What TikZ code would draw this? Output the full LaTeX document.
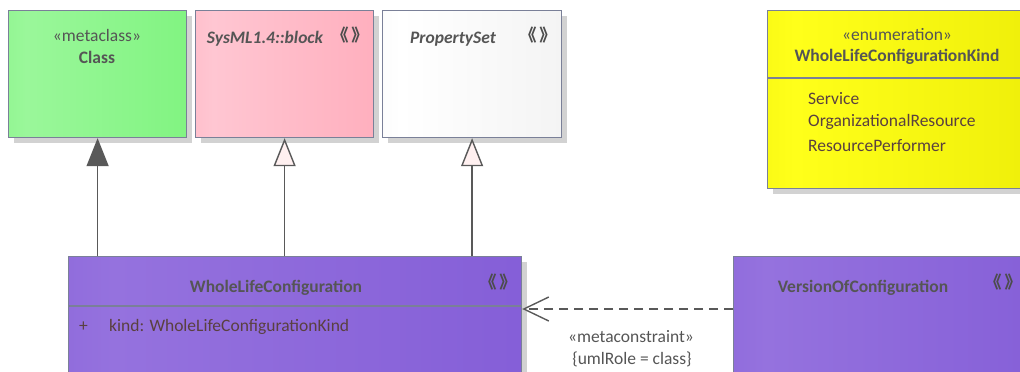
\documentclass[tikz,border=0pt]{standalone}
\usepackage{fontspec}
\setmainfont{Carlito}
\newfontfamily\cjk{Noto Sans CJK SC}
\usetikzlibrary{arrows.meta,shadows}

\definecolor{edgegray}{HTML}{7A8098}
\definecolor{linegray}{HTML}{595959}
\definecolor{textgray}{HTML}{555555}
\definecolor{itembrown}{HTML}{5A4040}
\definecolor{shadowgray}{HTML}{D2D2D2}
\definecolor{fadeedge}{HTML}{EEEEEE}
\definecolor{fadelight}{HTML}{FFFFFF}

\pgfdeclarehorizontalshading[fadeedge,fadelight]{umlfade}{100bp}{color(0bp)=(fadeedge); color(30bp)=(fadelight); color(100bp)=(fadeedge)}

\tikzset{
  box/.style={draw=edgegray, line width=1.2pt, anchor=north west, inner sep=0pt,
    drop shadow={shadow xshift=5pt, shadow yshift=-5pt, fill=shadowgray, opacity=1}},
  fade/.style 2 args={/utils/exec={\definecolor{fadeedge}{HTML}{#1}\definecolor{fadelight}{HTML}{#2}},
    shade, shading=umlfade},
  lbl/.style={inner sep=0pt, text=textgray, font=\fontsize{17.5}{20}\selectfont},
  boxtitle/.style={lbl, font=\fontsize{17.5}{20}\selectfont\bfseries},
  boxitem/.style={lbl, anchor=west, text=itembrown},
  stereo/.style={inner sep=0pt, text=textgray!90!black, font=\fontsize{17}{17}\cjk\bfseries},
  sepline/.style={draw=edgegray, line width=1.2pt},
  gen/.style={draw=linegray, line width=1.4pt,
    -{Triangle[length=28pt, width=22pt, fill=#1]}},
  dep/.style={draw=linegray, line width=1.4pt, dash pattern=on 9pt off 6pt,
    -{Straight Barb[length=25pt, width=24pt]}}
}
\newcommand{\stmark}{《\hspace{3pt}》}

\begin{document}
\begin{tikzpicture}[x=1pt, y=-1pt]
  \useasboundingbox (0,0) rectangle (1020,372);
  \clip (0,0) rectangle (1020,372);

  % upper row
  \node[box, fade={74F274}{9AF79A}, minimum width=178pt, minimum height=127pt] (cls) at (8,10) {};
  \node[box, fade={FFA3B3}{FFC6D2}, minimum width=178pt, minimum height=127pt] (blk) at (195,10) {};
  \node[box, fade={EEEEEE}{FFFFFF}, minimum width=179pt, minimum height=127pt] (pset) at (382,10) {};
  \node[box, fade={E6E600}{FFFF1A}, minimum width=270pt, minimum height=178pt] (enum) at (767,10) {};

  % lower row
  \node[box, fade={7C54D4}{9572DE}, minimum width=453pt, minimum height=150pt] (wlc) at (68,256) {};
  \node[box, fade={7C54D4}{9572DE}, minimum width=320pt, minimum height=150pt] (voc) at (733,256) {};

  % texts
  \node[lbl] (clsst) at (97,35) {«metaclass»};
  \node[boxtitle] (clsname) at (97,57) {Class};
  \node[boxtitle, font=\fontsize{17.5}{20}\selectfont\bfseries\itshape] (blkname) at (265,39) {SysML1.4::block};
  \node[stereo] (blkst) at (350,35) {\stmark};
  \node[boxtitle, font=\fontsize{17.5}{20}\selectfont\bfseries\itshape] (psetname) at (453,39) {PropertySet};
  \node[stereo] (psetst) at (538,35) {\stmark};
  \node[lbl] (enumst) at (897,35) {«enumeration»};
  \node[boxtitle] (enumname) at (897,57) {WholeLifeConfigurationKind};
  \node[boxitem] (lit1) at (808,99) {Service};
  \node[boxitem] (lit2) at (808,122) {OrganizationalResource};
  \node[boxitem] (lit3) at (808,146) {ResourcePerformer};

  \node[boxtitle] (wlcname) at (276,288) {WholeLifeConfiguration};
  \node[stereo] (wlcst) at (498,282) {\stmark};
  \node[boxitem] (wlcvis) at (79,327) {+};
  \node[boxitem] (wlcattr) at (109,327) {kind: WholeLifeConfigurationKind};
  \node[boxtitle] (vocname) at (863,288) {VersionOfConfiguration};
  \node[stereo] (vocst) at (1003,282) {\stmark};

  % compartments
  \coordinate (enumsep) at (0,78);
  \coordinate (wlcsep) at (0,306);
  \draw[sepline] (enum.west |- enumsep) -- (enum.east |- enumsep);
  \draw[sepline] (wlc.west |- wlcsep) -- (wlc.east |- wlcsep);

  % connectors
  \draw[gen=linegray] (wlc.north -| cls.south) -- (cls.south);
  \draw[gen=white!94!red] (wlc.north -| blk.south) -- (blk.south);
  \draw[gen=white!94!red] (wlc.north -| pset.south) -- (pset.south);

  \coordinate (deprow) at (0,309);
  \draw[dep] (voc.west |- deprow) -- (wlc.east |- deprow);
  \node[lbl] (depst) at (631,337) {«metaconstraint»};
  \node[lbl] (deprole) at (632,359) {\{umlRole = class\}};
\end{tikzpicture}
\end{document}
